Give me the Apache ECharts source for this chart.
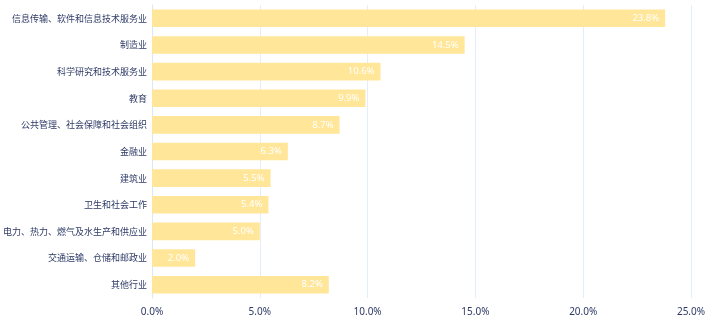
<!DOCTYPE html>
<html><head><meta charset="utf-8">
<script src="https://cdn.jsdelivr.net/npm/echarts@6/dist/echarts.min.js"></script>
<style>html,body{margin:0;padding:0;background:#fff}#c{width:718px;height:335px}</style>
</head><body><div id="c"></div>
<script>
const categories = ['信息传输、软件和信息技术服务业','制造业','科学研究和技术服务业','教育','公共管理、社会保障和社会组织','金融业','建筑业','卫生和社会工作','电力、热力、燃气及水生产和供应业','交通运输、仓储和邮政业','其他行业'];
const values = [23.8, 14.5, 10.6, 9.9, 8.7, 6.3, 5.5, 5.4, 5.0, 2.0, 8.2];
const xTicks = [0, 5, 10, 15, 20, 25];

const chart = echarts.init(document.getElementById('c'));
chart.setOption({
  animation: false,
  grid: {left: 152, right: 27, top: 5, bottom: 37, containLabel: false, outerBoundsMode: 'none'},
  xAxis: {
    type: 'value', min: xTicks[0], max: xTicks[xTicks.length-1], interval: 5,
    axisLine: {show: false}, axisTick: {show: false},
    splitLine: {lineStyle: {color: '#e3eefa', width: 1}},
    axisLabel: {color: '#2e3a66', fontSize: 10, fontFamily: 'Noto Sans', margin: 9,
      formatter: v => v.toFixed(1) + '%'}
  },
  yAxis: {
    type: 'category', data: categories, inverse: true,
    axisLine: {show: true, lineStyle: {color: '#d6e8fa', width: 1}},
    axisTick: {show: false},
    axisLabel: {color: '#2e3a66', fontSize: 9, fontFamily: 'Noto Sans CJK SC', margin: 5}
  },
  series: [{
    type: 'bar', data: values, barWidth: '66%',
    itemStyle: {color: '#ffe699'},
    label: {show: true, position: 'insideRight', distance: 6, color: '#ffffff',
      fontSize: 9.5, fontFamily: 'Noto Sans', formatter: p => p.value.toFixed(1) + '%'}
  }]
});
</script></body></html>
